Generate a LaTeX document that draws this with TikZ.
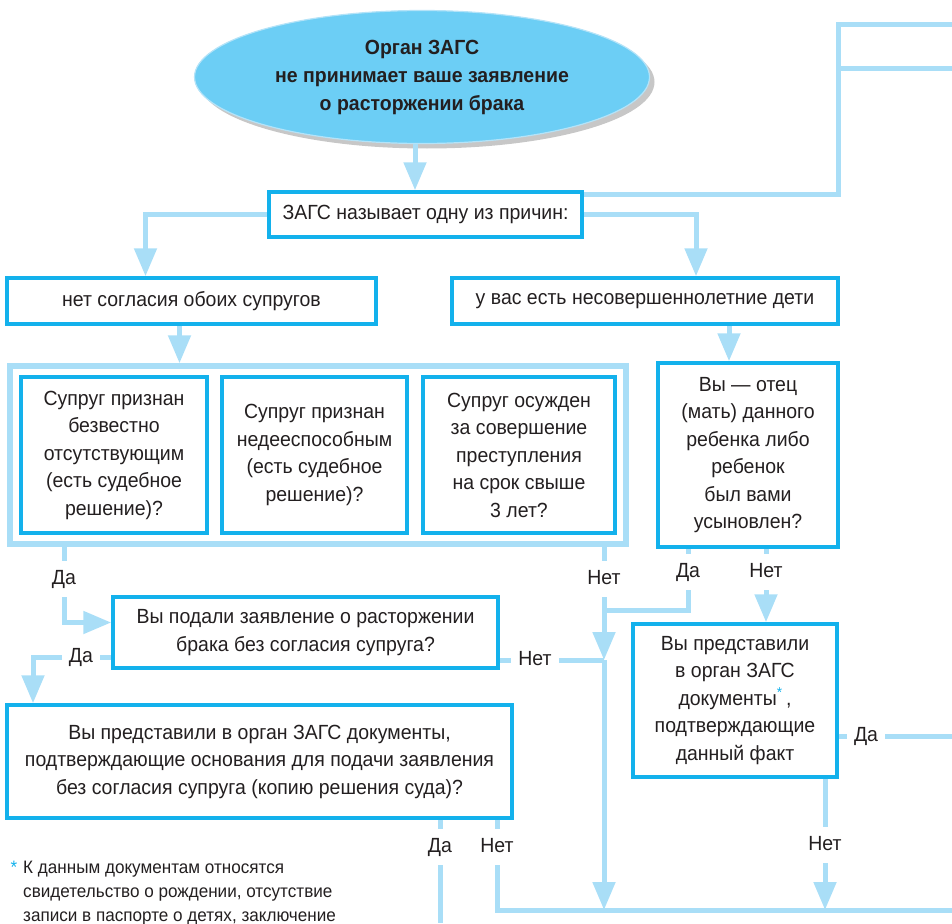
\documentclass[tikz,border=0pt]{standalone}
\usepackage{fontspec}
\setmainfont{Liberation Sans}[FakeStretch=0.95]
\usetikzlibrary{arrows.meta,shapes.geometric,shadows,fit,positioning}

\definecolor{linkblue}{HTML}{A9DEF7}
\definecolor{boxblue}{HTML}{13B1EC}
\definecolor{ovalfill}{HTML}{6CCEF5}
\definecolor{ovaledge}{HTML}{B4E3F8}
\definecolor{ink}{HTML}{231F20}

\tikzset{
  link/.style={line width=5pt,draw=linkblue},
  flow/.style={link,-{Triangle[width=22pt,length=28pt]}},
  box/.style={draw=boxblue,line width=3.5pt,fill=white,inner sep=0pt,align=center},
  bigframe/.style={draw=linkblue,line width=6pt,inner sep=9pt},
  oval/.style={ellipse,fill=ovalfill,draw=ovaledge,line width=1.2pt,inner sep=0pt,
    minimum width=455pt,minimum height=133pt,align=center,
    font=\fontsize{20.5}{28}\selectfont\bfseries,
    drop shadow={shadow xshift=5pt,shadow yshift=-5pt,fill=black!55,opacity=0.4}},
  ans/.style={inner xsep=7pt,inner ysep=9pt,text height=14pt,text depth=4pt},
  note/.style={align=left,inner sep=0pt,font=\fontsize{18}{24}\selectfont}
}

\begin{document}
\begin{tikzpicture}[x=1pt,y=-1pt,font=\fontsize{20.5}{27.5}\selectfont,text=ink]
  \useasboundingbox (0,0) rectangle (952,923);
  \clip (0,0) rectangle (952,923);

  \node[oval] (top) at (422,77) {Орган ЗАГС\\ не принимает ваше заявление\\ о расторжении брака};
  \node[box,minimum width=313pt,minimum height=45pt] (reason) at (425.5,214.5) {ЗАГС называет одну из причин:};
  \node[box,minimum width=369pt,minimum height=46pt] (nosogl) at (191.5,301) {нет согласия обоих супругов};
  \node[box,minimum width=386pt,minimum height=46pt] (kids) at (645,301) {у вас есть несовершеннолетние дети};

  \node[box,minimum width=186pt,minimum height=156pt] (b1) at (114,455) {Супруг признан\\ безвестно\\ отсутствующим\\ (есть судебное\\ решение)?};
  \node[box,minimum width=185pt,minimum height=156pt] (b2) at (314.5,455) {Супруг признан\\ недееспособным\\ (есть судебное\\ решение)?};
  \node[box,minimum width=192pt,minimum height=156pt] (b3) at (519,455) {Супруг осужден\\ за совершение\\ преступления\\ на срок свыше\\ 3 лет?};
  \node[bigframe,fit=(b1)(b2)(b3)] (grp) {};
  \node[box,minimum width=180pt,minimum height=184pt] (father) at (748,455) {Вы — отец\\ (мать) данного\\ ребенка либо\\ ребенок\\ был вами\\ усыновлен?};

  \node[box,minimum width=385pt,minimum height=71pt] (filed) at (305.5,632.5) {Вы подали заявление о расторжении\\ брака без согласия супруга?};
  \node[box,minimum width=505pt,minimum height=113pt] (docs) at (259.5,761.5) {Вы представили в орган ЗАГС документы,\\ подтверждающие основания для подачи заявления\\ без согласия супруга (копию решения суда)?};
  \node[box,minimum width=204pt,minimum height=153pt] (proof) at (735,700.5) {Вы представили\\ в орган ЗАГС\\ документы\textsuperscript{\textcolor{boxblue}{*}}\,,\\ подтверждающие\\ данный факт};

  \node[ans] (da1) at (64,579) {Да};
  \node[ans] (net1) at (604,579) {Нет};
  \node[ans] (da2) at (81,657) {Да};
  \node[ans] (net2) at (535,660) {Нет};
  \node[ans] (da3) at (688,572) {Да};
  \node[ans] (net3) at (766,572) {Нет};
  \node[ans] (da4) at (866,736) {Да};
  \node[ans] (net4) at (825,845) {Нет};
  \node[ans] (da5) at (440,847) {Да};
  \node[ans] (net5) at (497,847) {Нет};

  \node[note,anchor=north west] (fn) at (23,861) {\llap{\textcolor{boxblue}{*}\hspace{6pt}}К данным документам относятся\\ свидетельство о рождении, отсутствие\\ записи в паспорте о детях, заключение};

  \coordinate (a0) at (415,144);
  \coordinate (e1) at (952,25);
  \coordinate (e2) at (952,69);
  \coordinate (e3) at (952,910);
  \coordinate (e4) at (952,736);
  \coordinate (e5) at (440,923);
  \coordinate (j0) at (604,610);
  \coordinate (j1) at (604,660);

  \draw[flow] (a0) -- (a0 |- reason.north);
  \draw[link] ([yshift=-4pt]reason.north east) -| (e1 -| 838,0) -- (e1);
  \draw[link] (e2 -| 838,0) -- (e2);
  \draw[flow] (reason.west) -| ([xshift=-46pt]nosogl.north);
  \draw[flow] (reason.east) -| ([xshift=51pt]kids.north);
  \draw[flow] ([xshift=-12pt]nosogl.south) -- ([xshift=-12pt]nosogl.south |- grp.north);
  \draw[flow] ([xshift=84pt]kids.south) -- ([xshift=84pt]kids.south |- father.north);

  \draw[link] (grp.south -| da1) -- (da1);
  \draw[flow] (da1) |- ([yshift=10pt]filed.west);
  \draw[link] (grp.south -| net1) -- (net1);
  \draw[flow] (net1) -- (j1);
  \draw[flow] (j1) -- (j1 |- e3);
  \draw[link] (filed.east |- net2) -- (net2);
  \draw[link] (net2) -- (j1);
  \draw[link] (filed.west |- da2) -- (da2);
  \draw[flow] (da2) -| ([xshift=-226.5pt]docs.north);

  \draw[link] (father.south -| da3) -- (da3);
  \draw[link] (da3) |- (j0);
  \draw[link] (father.south -| net3) -- (net3);
  \draw[flow] (net3) -- (net3 |- proof.north);
  \draw[link] (proof.east |- da4) -- (da4);
  \draw[link] (da4) -- (e4);
  \draw[link] (proof.south -| net4) -- (net4);
  \draw[flow] (net4) -- (net4 |- e3);

  \draw[link] (docs.south -| da5) -- (da5);
  \draw[link] (da5) -- (e5);
  \draw[link] (docs.south -| net5) -- (net5);
  \draw[link] (net5) |- (e3);
\end{tikzpicture}
\end{document}
